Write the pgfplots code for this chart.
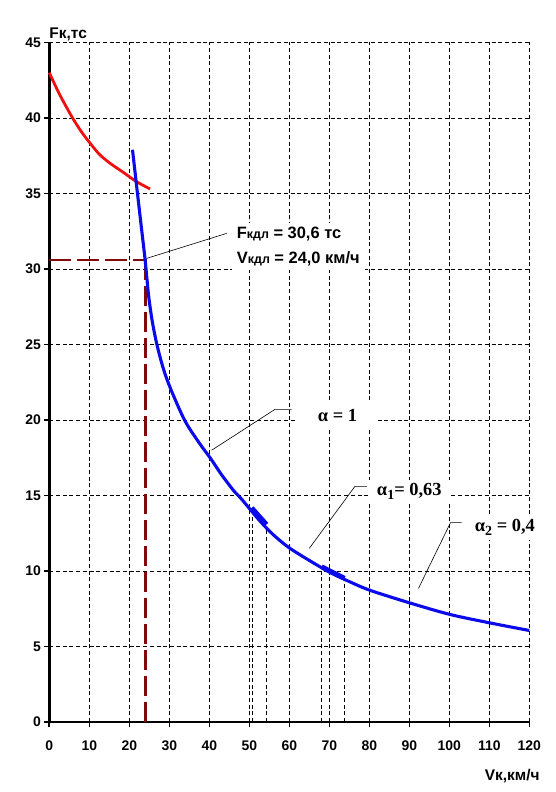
\documentclass[border=0pt]{standalone}
\usepackage{pgfplots}
\pgfplotsset{compat=1.18}
\usepackage{fontspec}
\setmainfont{Liberation Sans}
\newfontfamily\timesf{Liberation Serif}
\definecolor{cblue}{RGB}{10,10,235}
\definecolor{cred}{RGB}{240,15,15}
\definecolor{cdred}{RGB}{128,10,10}
\begin{document}
\begin{tikzpicture}
\useasboundingbox (-49.3bp,-70bp) rectangle (506.7bp,722bp);
\begin{axis}[
  at={(0,0)}, anchor=south west,
  scale only axis, width=480bp, height=679.5bp,
  xmin=0, xmax=120, ymin=0, ymax=45,
  xtick={0,10,...,120}, ytick={0,5,...,45},
  axis lines*=left,
  axis line style={line width=2.6bp, black},
  tick align=outside,
  major tick length=5bp,
  tick style={line width=1.6bp, black},
  grid=major,
  major grid style={black, line width=0.8bp, dash pattern=on 4bp off 2.7bp},
  tick label style={font=\fontsize{14}{14}\selectfont\bfseries},
  /pgf/number format/assume math mode=true,
  xticklabel style={yshift=-10.5bp},
  clip=false,
]
% vertical helper lines
\addplot[black, line width=0.8bp, dash pattern=on 4bp off 2.7bp] coordinates {(50.7,0) (50.7,13.9)};
\addplot[black, line width=0.8bp, dash pattern=on 4bp off 2.7bp] coordinates {(54.2,0) (54.2,12.9)};
\addplot[black, line width=0.8bp, dash pattern=on 4bp off 2.7bp] coordinates {(67.9,0) (67.9,10.2)};
\addplot[black, line width=0.8bp, dash pattern=on 4bp off 2.7bp] coordinates {(73.7,0) (73.7,9.4)};
% dark red dashed guides
\addplot[cdred, line width=2.6bp, dash pattern=on 22bp off 6bp] coordinates {(0,30.6) (24.3,30.6)};
\addplot[cdred, line width=2.6bp, dash pattern=on 20bp off 6bp] coordinates {(24.0,30.6) (24.0,0)};
% red curve
\addplot[cred, line width=2.8bp, smooth] coordinates {
(0,43.0) (2.5,41.6) (5.6,40.1) (8,39.1) (10,38.4) (12.5,37.6) (15.2,37.0) (18.5,36.4) (21.7,35.8) (25.2,35.3)};
% blue curve
\addplot[cblue, line width=3.1bp, smooth] coordinates {
(20.8,37.9) (22.0,35.1) (23.0,32.8) (24.0,30.5) (24.8,28.3) (25.7,26.6) (26.85,25.05) (28.4,23.5)
(30.2,22.15) (33.9,19.95) (37.7,18.4) (40.2,17.5) (43,16.4) (46,15.35) (48.1,14.75) (52.7,13.3)
(56,12.4) (59.9,11.55) (65,10.7) (70.2,9.9) (75,9.3) (80.2,8.72) (90.2,7.88) (100.2,7.12)
(110.2,6.56) (120,6.06)};
% thickened marks
\addplot[cblue, line width=4.8bp] coordinates {(50.6,14.18) (54.3,13.08)};
\addplot[cblue, line width=4.8bp] coordinates {(68.1,10.28) (73.8,9.52)};
% leader lines
\addplot[black, line width=0.6bp] coordinates {(24.3,30.7) (44.35,32.36)};
\addplot[black, line width=0.6bp] coordinates {(40.6,18.0) (56.4,20.7) (60.6,20.7)};
\addplot[black, line width=0.6bp] coordinates {(65.0,11.5) (76.4,15.6) (79.4,15.6)};
\addplot[black, line width=0.6bp] coordinates {(92.3,8.85) (100.3,13.2) (103.1,13.2)};
% annotation
\node[fill=white, anchor=north west, align=left, inner xsep=5bp, inner ysep=4bp,
  font=\fontsize{16.5}{25.5}\selectfont\bfseries] at (axis cs:45.6,33.08)
  {F{\fontsize{12.5}{12}\selectfont кдл}~=~30,6 тс\\V{\fontsize{12.5}{12}\selectfont кдл}~=~24,0 км/ч};
\node[fill=white, minimum width=81bp, minimum height=24bp, inner sep=0pt,
  font=\timesf\fontsize{18.5}{18}\selectfont\bfseries] at (axis cs:72.05,20.33) {α = 1};
\node[fill=white, minimum width=83bp, minimum height=23bp, inner sep=0pt,
  font=\timesf\fontsize{18.5}{18}\selectfont\bfseries] at (axis cs:90.0,15.26)
  {α\raisebox{-3.5bp}{\fontsize{14}{14}\selectfont 1}= 0,63};
\node[fill=white, minimum width=68bp, minimum height=26bp, inner sep=0pt,
  font=\timesf\fontsize{18.5}{18}\selectfont\bfseries] at (axis cs:113.9,12.9)
  {α\raisebox{-3.5bp}{\fontsize{14}{14}\selectfont 2} = 0,4};
% axis labels
\node[anchor=base west, inner sep=0pt, font=\fontsize{15.5}{15}\selectfont\bfseries]
  at (rel axis cs:0,1) [yshift=3.5bp] {Fк,тс};
\node[anchor=base east, inner sep=0pt, font=\fontsize{15.5}{15}\selectfont\bfseries]
  at (rel axis cs:1,0) [xshift=10.5bp, yshift=-58bp] {Vк,км/ч};
\end{axis}
\end{tikzpicture}
\end{document}
